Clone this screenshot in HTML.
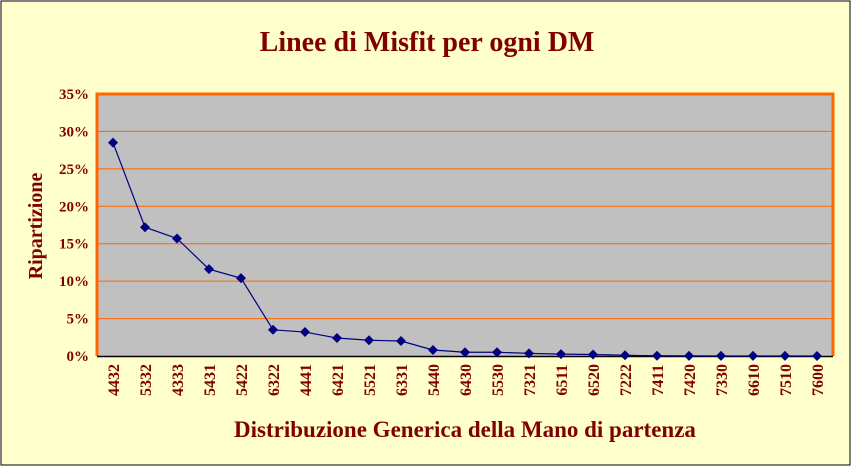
<!DOCTYPE html>
<html><head><meta charset="utf-8"><style>
body{margin:0;background:#fff}
svg{display:block;font-family:"Liberation Serif",serif}
</style></head><body>
<svg id="c" width="852" height="467">
<rect x="1" y="1" width="849" height="464" fill="#FFFFCC" stroke="#000" stroke-width="1"/>
<text x="427" y="51" text-anchor="middle" font-size="28" font-weight="bold" fill="#800000">Linee di Misfit per ogni DM</text>
<rect x="97" y="94" width="736" height="262" fill="#C0C0C0"/>
<g id="grid"></g>
<g id="yt"></g>
<g id="xt"></g>
<path d="M97,356 V94 H833 V356" fill="none" stroke="#FF6600" stroke-width="3"/>
<line x1="97" y1="356.5" x2="833" y2="356.5" stroke="#000" stroke-width="1.5"/>
<g id="series"></g>
<text transform="translate(42,226) rotate(-90)" text-anchor="middle" font-size="20" font-weight="bold" fill="#800000">Ripartizione</text>
<text x="465" y="437" text-anchor="middle" font-size="23" font-weight="bold" fill="#800000">Distribuzione Generica della Mano di partenza</text>
</svg>
<script>
const categories=["4432","5332","4333","5431","5422","6322","4441","6421","5521","6331","5440","6430","5530","7321","6511","6520","7222","7411","7420","7330","6610","7510","7600"];
const values=[28.5,17.2,15.7,11.6,10.4,3.5,3.2,2.4,2.1,2.0,0.8,0.5,0.5,0.35,0.25,0.2,0.1,0.03,0.02,0.01,0.01,0.01,0.0];
const yTicks=[0,5,10,15,20,25,30,35];
const NS="http://www.w3.org/2000/svg";
const L=97,R=833,T=94,B=356,YMAX=35;
const sx=i=>L+(R-L)/categories.length*(i+0.5);
const sy=v=>B-(B-T)*v/YMAX;
function mk(tag,attrs,parent){const e=document.createElementNS(NS,tag);for(const k in attrs)e.setAttribute(k,attrs[k]);document.getElementById(parent).appendChild(e);return e;}
yTicks.forEach(t=>{
  if(t>0&&t<YMAX){const g=mk("line",{x1:L,x2:R,y1:sy(t),y2:sy(t),stroke:"#FF6600","stroke-width":1},"grid");
  
  }
  const tx=mk("text",{x:89,y:sy(t)+5,"text-anchor":"end","font-size":15,"font-weight":"bold",fill:"#800000"},"yt");
  tx.textContent=t+"%";
  
  
});
categories.forEach((c,i)=>{
  const x=sx(i);
  const tx=mk("text",{transform:`translate(${x+6},380) rotate(-90)`,"text-anchor":"middle","font-size":16,"font-weight":"bold",fill:"#800000"},"xt");
  tx.textContent=c;
  
  
});
const pts=values.map((v,i)=>sx(i)+","+sy(v)).join(" ");
const pl=mk("polyline",{points:pts,fill:"none",stroke:"#000080","stroke-width":1.2},"series");


values.forEach((v,i)=>{
  const x=sx(i),y=sy(v);
  const m=mk("polygon",{points:`${x},${y-5} ${x+5},${y} ${x},${y+5} ${x-5},${y}`,fill:"#000080"},"series");
  
  
});
</script>
</body></html>
